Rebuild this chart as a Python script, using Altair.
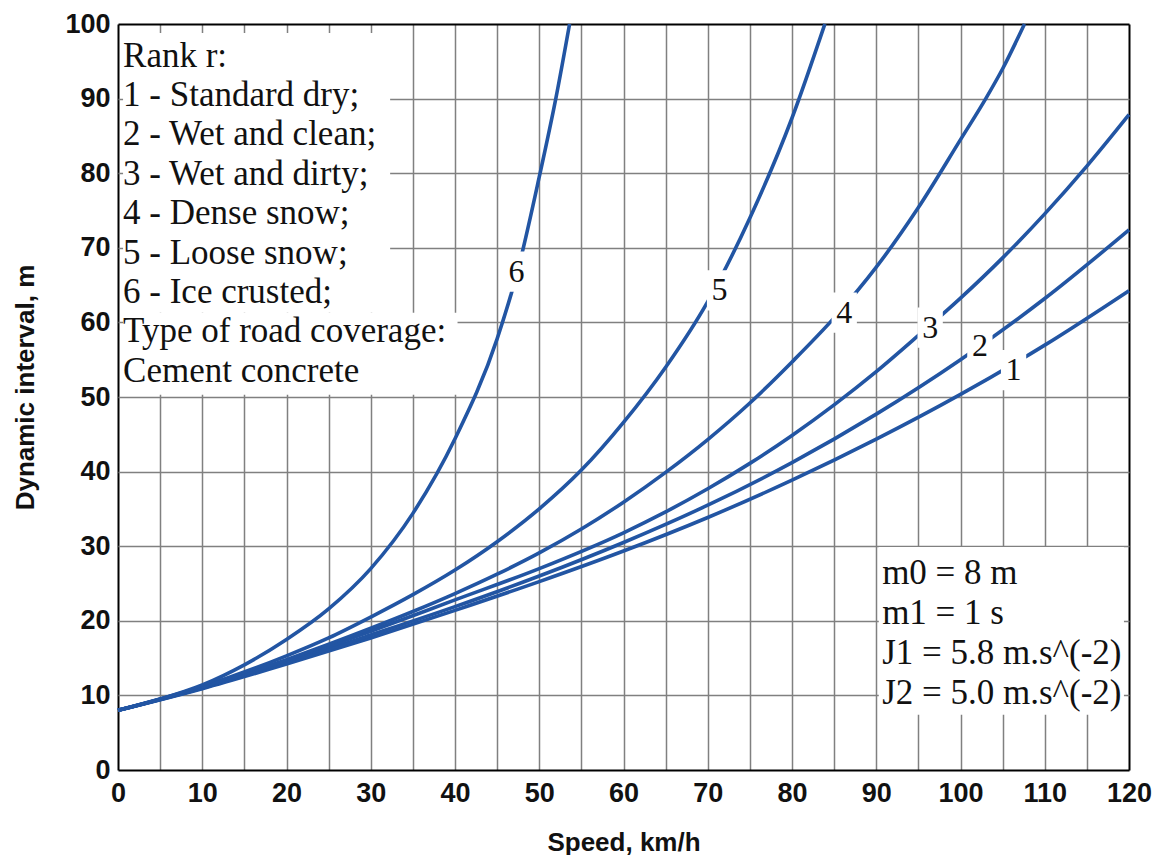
import altair as alt
import pandas as pd

# ---------------- data ----------------
speed_1 = [0, 10, 20, 30, 40, 50, 60, 70, 80, 90, 100, 110, 120]
interval_1 = [8, 10.9, 14.2, 17.7, 21.4, 25.25, 29.35, 33.85, 38.85, 44.35, 50.35, 56.95, 64.25]

speed_2 = [0, 10, 20, 30, 40, 50, 60, 70, 80, 90, 100, 110, 120]
interval_2 = [8, 11.0, 14.4, 18.1, 21.9, 26.0, 30.5, 35.5, 41.2, 47.7, 55.0, 63.2, 72.4]

speed_3 = [0, 10, 20, 30, 40, 50, 60, 65, 70, 75, 80, 85, 90, 95, 100, 105, 110, 115, 120]
interval_3 = [8, 11.0, 14.6, 18.6, 22.8, 27.0, 31.8, 34.6, 37.7, 41.1, 44.85, 48.95, 53.4, 58.25,
              63.25, 68.65, 74.55, 80.95, 87.85]

speed_4 = [0, 10, 20, 30, 35, 40, 45, 50, 55, 60, 65, 70, 75, 80, 85, 90, 95, 100, 103, 105,
           107.6]
interval_4 = [8, 11.1, 14.8, 19.0, 21.25, 23.65, 26.25, 29.1, 32.3, 35.9, 39.9, 44.3, 49.2, 54.7,
              60.6, 67.4, 75.4, 84.5, 90.0, 94.0, 100]

speed_5 = [0, 10, 20, 25, 30, 35, 40, 45, 50, 55, 60, 65, 70, 75, 80, 83.9]
interval_5 = [8, 11.2, 15.3, 17.7, 20.5, 23.5, 26.8, 30.6, 35.0, 40.2, 46.6, 54.0, 62.8, 74.0,
              87.4, 100]

speed_6 = [0, 5, 10, 15, 20, 25, 30, 35, 40, 45, 47.5, 50, 52, 53.6]
interval_6 = [8, 9.5, 11.4, 14.1, 17.5, 21.6, 27.0, 34.4, 44.4, 57.8, 67.2, 79.5, 90.2, 100]

rank_labels = ["1", "2", "3", "4", "5", "6"]
label_speed = [106.3, 102.3, 96.4, 86.2, 71.4, 47.3]
label_interval = [53.6, 56.9, 59.3, 61.3, 64.3, 66.8]

legend_lines = ["Rank r:", "1 - Standard dry;", "2 - Wet and clean;", "3 - Wet and dirty;",
                "4 - Dense snow;", "5 - Loose snow;", "6 - Ice crusted;",
                "Type of road coverage:", "Cement concrete"]
param_lines = ["m0 = 8 m", "m1 = 1 s", "J1 = 5.8 m.s^(-2)", "J2 = 5.0 m.s^(-2)"]

x_ticks = list(range(0, 121, 5))
y_ticks = list(range(0, 101, 5))

# ---------------- tables ----------------
series = [(speed_1, interval_1), (speed_2, interval_2), (speed_3, interval_3),
          (speed_4, interval_4), (speed_5, interval_5), (speed_6, interval_6)]
rows = []
for name, (xs_, ys_) in zip(rank_labels, series):
    for xv, yv in zip(xs_, ys_):
        rows.append({"rank": name, "speed": xv, "interval": yv})
curves = pd.DataFrame(rows)

labels = pd.DataFrame({"rank": rank_labels, "speed": label_speed, "interval": label_interval})
labels["x0"] = labels["speed"] - 1.5
labels["x1"] = labels["speed"] + 1.5
labels["y0"] = labels["interval"] - 2.7
labels["y1"] = labels["interval"] + 2.7

boxes = pd.DataFrame({
    "x0": [0.6, 0.6, 90.3],
    "x1": [32.3, 40.3, 119.4],
    "y0": [61.3, 50.3, 7.4],
    "y1": [98.8, 61.3, 29.9],
})

LINE = "#2255a3"
GRID = "#808080"
INK = "#111111"

edge_x = {"condition": {"test": "datum.value === 0 || datum.value === 120", "value": "#000000"},
          "value": GRID}
edge_y = {"condition": {"test": "datum.value === 0 || datum.value === 100", "value": "#000000"},
          "value": GRID}
edge_wx = {"condition": {"test": "datum.value === 0 || datum.value === 120", "value": 2},
           "value": 1.5}
edge_wy = {"condition": {"test": "datum.value === 0 || datum.value === 100", "value": 2},
           "value": 1.5}

x_axis = alt.Axis(values=x_ticks, labelExpr="datum.value % 10 === 0 ? datum.label : ''",
                  title="Speed, km/h", grid=True, gridColor=edge_x, gridWidth=edge_wx,
                  domain=False, ticks=False, labelFlush=False, labelOverlap=False,
                  labelFont="Liberation Sans", labelFontWeight="bold", labelFontSize=27,
                  labelColor=INK, labelPadding=10,
                  titleFont="Liberation Sans", titleFontWeight="bold", titleFontSize=26,
                  titleColor=INK, titleY=80, titleBaseline="alphabetic")
y_axis = alt.Axis(values=y_ticks, labelExpr="datum.value % 10 === 0 ? datum.label : ''",
                  title="Dynamic interval, m", grid=True, gridColor=edge_y, gridWidth=edge_wy,
                  domain=False, ticks=False, labelFlush=False, labelOverlap=False,
                  labelFont="Liberation Sans", labelFontWeight="bold", labelFontSize=27,
                  labelColor=INK, labelPadding=8,
                  titleFont="Liberation Sans", titleFontWeight="bold", titleFontSize=26,
                  titleColor=INK, titleX=-93, titleY=363, titleAngle=270,
                  titleAlign="center", titleBaseline="middle")

xs = alt.Scale(domain=[0, 120], nice=False, zero=False)
ys = alt.Scale(domain=[0, 100], nice=False, zero=False)

base_boxes = alt.Chart(boxes).mark_rect(color="white").encode(
    x=alt.X("x0:Q", scale=xs, axis=x_axis), x2="x1:Q",
    y=alt.Y("y0:Q", scale=ys, axis=y_axis), y2="y1:Q",
)

lines = alt.Chart(curves).mark_line(interpolate="monotone", strokeWidth=3.6, color=LINE).encode(
    x=alt.X("speed:Q", scale=xs), y=alt.Y("interval:Q", scale=ys), detail="rank:N",
    order="speed:Q",
)

label_boxes = alt.Chart(labels).mark_rect(color="white").encode(
    x=alt.X("x0:Q", scale=xs), x2="x1:Q", y=alt.Y("y0:Q", scale=ys), y2="y1:Q",
)

label_text = alt.Chart(labels).mark_text(
    font="Liberation Serif", fontSize=32, color=INK, align="center", baseline="middle"
).encode(x=alt.X("speed:Q", scale=xs), y=alt.Y("interval:Q", scale=ys), text="rank:N")

legend_text = alt.Chart(pd.DataFrame({"k": [0]})).mark_text(
    font="Liberation Serif", fontSize=35, color=INK, align="left",
    baseline="alphabetic", lineHeight=39.4, text=legend_lines,
).encode(x=alt.datum(0.6), y=alt.datum(94.3))

param_text = alt.Chart(pd.DataFrame({"k": [0]})).mark_text(
    font="Liberation Serif", fontSize=35, color=INK, align="left",
    baseline="alphabetic", lineHeight=40, text=param_lines,
).encode(x=alt.datum(90.7), y=alt.datum(25.0))

chart = alt.layer(base_boxes, lines, label_boxes, label_text, legend_text, param_text).properties(
    width=1011, height=746,
    autosize=alt.AutoSizeParams(type="none"),
    padding={"left": 110, "top": 16, "right": 25, "bottom": 85},
    background="white",
).configure_view(stroke="transparent")

chart.save("out.html", embed_options={"renderer": "svg", "actions": False})
